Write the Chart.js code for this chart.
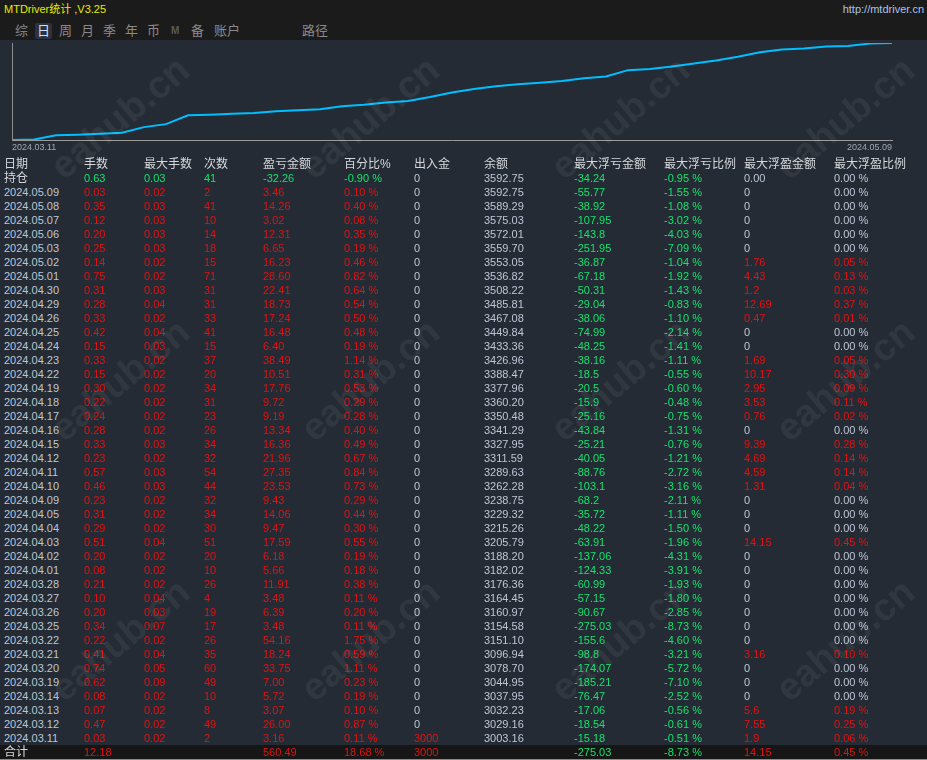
<!DOCTYPE html>
<html>
<head>
<meta charset="utf-8">
<script src="https://cdn.jsdelivr.net/npm/chart.js@4.4.1/dist/chart.umd.min.js"></script>
<style>
body{margin:0;width:927px;height:760px;background:#252b34;overflow:hidden;position:relative;
  font-family:"Liberation Sans",Arial,"Noto Sans CJK SC",sans-serif}
#top{position:absolute;left:0;top:0;width:927px;height:40px;background:#1b1b1b}
#title{position:absolute;left:4px;top:1px;font-size:11px;line-height:16px;color:#e8e800}
#url{position:absolute;right:3px;top:1px;font-size:11px;line-height:16px;color:#a6c4ea}
.tab{position:absolute;top:23px;height:16px;line-height:16px;font-size:13px;color:#8a8a8a}
.tab.on{background:#2a3341;color:#cfe0f5;border-radius:2px;text-align:center}
.tab.m{font-size:10px;font-weight:bold;color:#5a5a5a}
#chartBox{position:absolute;left:0;top:40px;width:927px;height:118px}
.cell{position:absolute;white-space:nowrap;height:14px;line-height:14px;font-size:11px}
.head{font-size:12px}
#totalBg{position:absolute;left:0;top:745px;width:927px;height:14px;background:#161616;border-bottom:1px solid #8a8a8a}
.wm{position:absolute;font:bold 38px "Liberation Sans",Arial,sans-serif;color:rgba(255,255,255,0.06);
  transform:translate(-50%,-50%) rotate(-40deg);pointer-events:none;white-space:nowrap}
</style>
</head>
<body>
<div id="top">
  <div id="title">MTDriver统计 ,V3.25</div>
  <div id="url">http://mtdriver.cn</div>
</div>
<div id="chartBox"><canvas id="curve" width="927" height="118"></canvas></div>
<div id="totalBg"></div>
<div id="table"></div>

<script>
// daily rows, newest first (as in the table)
const dates = ["2024.05.09","2024.05.08","2024.05.07","2024.05.06","2024.05.03","2024.05.02","2024.05.01","2024.04.30",
  "2024.04.29","2024.04.26","2024.04.25","2024.04.24","2024.04.23","2024.04.22","2024.04.19","2024.04.18","2024.04.17",
  "2024.04.16","2024.04.15","2024.04.12","2024.04.11","2024.04.10","2024.04.09","2024.04.05","2024.04.04","2024.04.03",
  "2024.04.02","2024.04.01","2024.03.28","2024.03.27","2024.03.26","2024.03.25","2024.03.22","2024.03.21","2024.03.20",
  "2024.03.19","2024.03.14","2024.03.13","2024.03.12","2024.03.11"];
const lots = [0.03,0.35,0.12,0.20,0.25,0.14,0.75,0.31,0.28,0.33,0.42,0.15,0.33,0.15,0.30,0.22,0.24,0.28,0.33,0.23,
  0.57,0.46,0.23,0.31,0.29,0.51,0.20,0.08,0.21,0.10,0.20,0.34,0.22,0.41,0.74,0.62,0.08,0.07,0.47,0.03];
const maxLots = [0.02,0.03,0.03,0.03,0.03,0.02,0.02,0.03,0.04,0.02,0.04,0.03,0.02,0.02,0.02,0.02,0.02,0.02,0.03,0.02,
  0.03,0.03,0.02,0.02,0.02,0.04,0.02,0.02,0.02,0.04,0.03,0.07,0.02,0.04,0.05,0.09,0.02,0.02,0.02,0.02];
const trades = [2,41,10,14,18,15,71,31,31,33,41,15,37,20,34,31,23,26,34,32,54,44,32,34,30,51,20,10,26,4,19,17,26,35,60,49,10,8,49,2];
const profit = [3.46,14.26,3.02,12.31,6.65,16.23,28.60,22.41,18.73,17.24,16.48,6.40,38.49,10.51,17.76,9.72,9.19,13.34,16.36,21.96,
  27.35,23.53,9.43,14.06,9.47,17.59,6.18,5.66,11.91,3.48,6.39,3.48,54.16,18.24,33.75,7.00,5.72,3.07,26.00,3.16];
const profitPct = [0.10,0.40,0.08,0.35,0.19,0.46,0.82,0.64,0.54,0.50,0.48,0.19,1.14,0.31,0.53,0.29,0.28,0.40,0.49,0.67,
  0.84,0.73,0.29,0.44,0.30,0.55,0.19,0.18,0.38,0.11,0.20,0.11,1.75,0.59,1.11,0.23,0.19,0.10,0.87,0.11];
const deposit = [0,0,0,0,0,0,0,0,0,0,0,0,0,0,0,0,0,0,0,0,0,0,0,0,0,0,0,0,0,0,0,0,0,0,0,0,0,0,0,3000];
const balance = [3592.75,3589.29,3575.03,3572.01,3559.70,3553.05,3536.82,3508.22,3485.81,3467.08,3449.84,3433.36,3426.96,
  3388.47,3377.96,3360.20,3350.48,3341.29,3327.95,3311.59,3289.63,3262.28,3238.75,3229.32,3215.26,3205.79,3188.20,3182.02,
  3176.36,3164.45,3160.97,3154.58,3151.10,3096.94,3078.70,3044.95,3037.95,3032.23,3029.16,3003.16];
const maxLoss = [-55.77,-38.92,-107.95,-143.8,-251.95,-36.87,-67.18,-50.31,-29.04,-38.06,-74.99,-48.25,-38.16,-18.5,-20.5,
  -15.9,-25.16,-43.84,-25.21,-40.05,-88.76,-103.1,-68.2,-35.72,-48.22,-63.91,-137.06,-124.33,-60.99,-57.15,-90.67,-275.03,
  -155.6,-98.8,-174.07,-185.21,-76.47,-17.06,-18.54,-15.18];
const maxLossPct = [-1.55,-1.08,-3.02,-4.03,-7.09,-1.04,-1.92,-1.43,-0.83,-1.10,-2.14,-1.41,-1.11,-0.55,-0.60,-0.48,-0.75,
  -1.31,-0.76,-1.21,-2.72,-3.16,-2.11,-1.11,-1.50,-1.96,-4.31,-3.91,-1.93,-1.80,-2.85,-8.73,-4.60,-3.21,-5.72,-7.10,-2.52,
  -0.56,-0.61,-0.51];
const maxGain = [0,0,0,0,0,1.76,4.43,1.2,12.69,0.47,0,0,1.69,10.17,2.95,3.53,0.76,0,9.39,4.69,4.59,1.31,0,0,0,14.15,
  0,0,0,0,0,0,0,3.16,0,0,0,5.6,7.55,1.9];
const maxGainPct = [0,0,0,0,0,0.05,0.13,0.03,0.37,0.01,0,0,0.05,0.30,0.09,0.11,0.02,0,0.28,0.14,0.14,0.04,0,0,0,0.45,
  0,0,0,0,0,0,0,0.10,0,0,0,0.19,0.25,0.06];

// open positions row
const holdLots = 0.63, holdMaxLots = 0.03, holdTrades = 41, holdProfit = -32.26, holdPct = -0.90;
const holdBalance = 3592.75, holdLoss = -34.24, holdLossPct = -0.95;
// totals row
const totalLots = 12.18, totalProfit = 560.49, totalPct = 18.68, totalDeposit = 3000;
const totalLoss = -275.03, totalLossPct = -8.73, totalGain = 14.15, totalGainPct = 0.45;

const headers = ["日期","手数","最大手数","次数","盈亏金额","百分比%","出入金","余额","最大浮亏金额","最大浮亏比例","最大浮盈金额","最大浮盈比例"];
const tabs = [["综",15],["日",35],["周",59],["月",81],["季",103],["年",125],["币",147],["M",171],["备",191],["账户",214],["路径",302]];

const RED = "#e21212", GREEN = "#14e26c", TXT = "#bcc6d6", HEAD = "#d4d8dc";
const colX = [4,84,144,204,263,344,414,484,574,664,744,834];

// tabs
tabs.forEach(function(t){
    let d = document.createElement("div");
    d.className = "tab";
    d.textContent = t[0];
    d.style.left = t[1] + "px";
    if (t[0] == "日") { d.className += " on"; d.style.width = "17px"; }
    if (t[0] == "M") { d.className += " m"; }
    document.getElementById("top").appendChild(d);
});

// table
const table = document.getElementById("table");
function cell(row, col, text, color, cls) {
    let d = document.createElement("div");
    d.className = "cell" + (cls ? " " + cls : "");
    d.style.left = colX[col] + "px";
    d.style.top = (157 + row * 14) + "px";
    d.style.color = color;
    d.textContent = text;
    table.appendChild(d);
}
const f2 = v => v.toFixed(2);
const pc = v => v.toFixed(2) + " %";
const sign = v => v < 0 ? GREEN : RED;

headers.forEach((h, i) => cell(0, i, h, HEAD, "head"));

cell(1, 0, "持仓", HEAD, "head");
cell(1, 1, f2(holdLots), GREEN);
cell(1, 2, f2(holdMaxLots), GREEN);
cell(1, 3, String(holdTrades), GREEN);
cell(1, 4, f2(holdProfit), GREEN);
cell(1, 5, pc(holdPct), GREEN);
cell(1, 6, "0", TXT);
cell(1, 7, f2(holdBalance), TXT);
cell(1, 8, String(holdLoss), GREEN);
cell(1, 9, pc(holdLossPct), GREEN);
cell(1, 10, "0.00", TXT);
cell(1, 11, "0.00 %", TXT);

for (let i = 0; i < dates.length; i++) {
    let r = i + 2;
    cell(r, 0, dates[i], TXT);
    cell(r, 1, f2(lots[i]), RED);
    cell(r, 2, f2(maxLots[i]), RED);
    cell(r, 3, String(trades[i]), RED);
    cell(r, 4, f2(profit[i]), sign(profit[i]));
    cell(r, 5, pc(profitPct[i]), sign(profitPct[i]));
    cell(r, 6, String(deposit[i]), deposit[i] == 0 ? TXT : RED);
    cell(r, 7, f2(balance[i]), TXT);
    cell(r, 8, String(maxLoss[i]), GREEN);
    cell(r, 9, pc(maxLossPct[i]), GREEN);
    cell(r, 10, String(maxGain[i]), maxGain[i] == 0 ? TXT : RED);
    cell(r, 11, pc(maxGainPct[i]), maxGainPct[i] == 0 ? TXT : RED);
}

let tr = dates.length + 2;
cell(tr, 0, "合计", HEAD, "head");
cell(tr, 1, f2(totalLots), RED);
cell(tr, 4, f2(totalProfit), RED);
cell(tr, 5, pc(totalPct), RED);
cell(tr, 6, String(totalDeposit), RED);
cell(tr, 8, String(totalLoss), GREEN);
cell(tr, 9, pc(totalLossPct), GREEN);
cell(tr, 10, String(totalGain), RED);
cell(tr, 11, pc(totalGainPct), RED);

// watermark
[120,370,620,845].forEach(function(x){
    [118,380,640].forEach(function(y){
        let w = document.createElement("div");
        w.className = "wm";
        w.textContent = "eahub.cn";
        w.style.left = x + "px";
        w.style.top = y + "px";
        document.body.appendChild(w);
    });
});

// balance curve: starting deposit, then each day's closing balance (oldest first)
let curveLabels = [dates[dates.length - 1]].concat(dates.slice().reverse());
let curveValues = [deposit[deposit.length - 1]].concat(balance.slice().reverse());

let ctx = document.getElementById("curve");
let curveChart = new Chart(ctx, {
    type: 'line',
    data: {
        labels: curveLabels,
        datasets: [{
            data: curveValues,
            borderColor: '#00bfff',
            borderWidth: 2,
            pointRadius: 0,
            tension: 0,
            fill: false
        }]
    },
    options: {
        responsive: false,
        animation: false,
        layout: { padding: { left: 12, right: 35, top: 3, bottom: 0 } },
        plugins: { legend: { display: false }, tooltip: { enabled: false } },
        scales: {
            x: {
                grid: { display: false, drawTicks: false },
                border: { color: '#9a9a9a' },
                ticks: { color: '#a3a7ad', font: { size: 9, family: 'Liberation Sans' }, maxRotation: 0,
                         autoSkip: false, align: 'inner', padding: 2 },
                afterBuildTicks: function(s) { s.ticks = [s.ticks[0], s.ticks[s.ticks.length - 1]]; },
                afterFit: function(s) { s.height = 18; }
            },
            y: {
                min: deposit[deposit.length - 1],
                max: Math.max.apply(null, balance),
                grid: { display: false, drawTicks: false },
                border: { color: '#8c8c8c' },
                ticks: { display: false },
                afterFit: function(s) { s.width = 0; }
            }
        }
    }
});
</script>
</body>
</html>
